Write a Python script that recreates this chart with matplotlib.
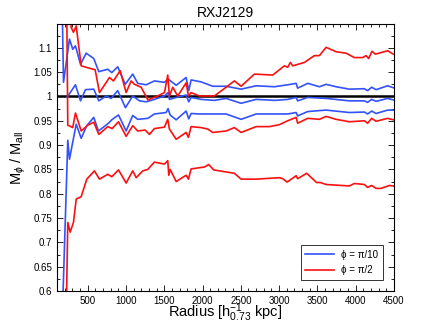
import matplotlib
matplotlib.use("Agg")
import matplotlib.pyplot as plt
from matplotlib.ticker import MultipleLocator

plt.rcParams["font.family"] = ["Liberation Sans", "DejaVu Sans"]
plt.rcParams["mathtext.fontset"] = "custom"
plt.rcParams["mathtext.rm"] = "Liberation Sans"
plt.rcParams["mathtext.it"] = "Liberation Sans:italic"

BLUE = "#3352fa"
RED = "#fa1010"

# phi = pi/10 (blue), three curves
r_b1 = [150, 185, 263, 306, 341, 407, 481, 580, 646, 763, 815, 893, 990, 1089,
        1154, 1264, 1372, 1503, 1550, 1656, 1786, 1820, 1851, 1982, 2133, 2308,
        2504, 2700, 2938, 3112, 3222, 3242, 3373, 3526, 3613, 3744, 3917, 4113,
        4156, 4208, 4266, 4417, 4490]
m_b1 = [1.35, 1.029, 1.118, 1.097, 1.104, 1.066, 1.089, 1.078, 1.051, 1.056,
        1.049, 1.061, 1.025, 1.046, 1.027, 1.024, 1.032, 1.029, 1.036, 1.023,
        1.039, 1.012, 1.034, 1.030, 1.021, 1.021, 1.015, 1.022, 1.020, 1.024,
        1.027, 1.017, 1.027, 1.020, 1.025, 1.020, 1.015, 1.016, 1.012, 1.019,
        1.014, 1.022, 1.018]

r_b2 = [230, 341, 407, 472, 580, 646, 742, 807, 893, 994, 1089, 1177, 1264,
        1372, 1503, 1550, 1568, 1656, 1786, 1820, 1851, 1982, 2155, 2308, 2504,
        2700, 2950, 3112, 3222, 3242, 3373, 3613, 3917, 4113, 4156, 4208, 4266,
        4417, 4490]
m_b2 = [0.998, 1.024, 0.991, 1.014, 1.015, 0.991, 1.001, 0.996, 1.012, 0.977,
        1.001, 0.991, 0.989, 0.994, 1.001, 1.008, 0.994, 0.998, 1.003, 0.989,
        0.998, 0.994, 0.992, 0.996, 0.986, 0.994, 0.992, 0.994, 0.998, 0.991,
        0.998, 0.996, 0.991, 0.991, 0.988, 0.994, 0.990, 0.996, 0.993]

r_b3 = [160, 241, 263, 351, 416, 489, 580, 642, 772, 815, 903, 1003, 1089,
        1154, 1285, 1372, 1525, 1550, 1577, 1656, 1786, 1820, 1851, 1960, 2308,
        2504, 2700, 3004, 3112, 3222, 3242, 3373, 3613, 3917, 4113, 4156, 4208,
        4266, 4417, 4490]
m_b3 = [0.50, 0.910, 0.871, 0.943, 0.914, 0.940, 0.957, 0.929, 0.945, 0.952,
        0.962, 0.929, 0.961, 0.953, 0.955, 0.964, 0.967, 0.975, 0.962, 0.952,
        0.970, 0.954, 0.965, 0.964, 0.964, 0.953, 0.964, 0.964, 0.964, 0.967,
        0.960, 0.969, 0.972, 0.967, 0.968, 0.964, 0.970, 0.965, 0.972, 0.972]

# phi = pi/2 (red), three curves
r_r1 = [250, 285, 315, 351, 416, 524, 598, 655, 785, 837, 925, 1003, 1068,
        1111, 1199, 1285, 1415, 1503, 1546, 1568, 1611, 1676, 1786, 1816, 1851,
        1960, 2155, 2308, 2416, 2504, 2677, 2916, 3069, 3112, 3147, 3177, 3330,
        3460, 3526, 3613, 3744, 3874, 3982, 4091, 4135, 4169, 4213, 4256, 4417,
        4491]
m_r1 = [1.20, 1.142, 1.132, 1.145, 1.063, 1.058, 1.055, 1.008, 1.039, 1.032,
        1.053, 1.008, 1.032, 1.025, 1.019, 0.993, 1.001, 1.008, 1.044, 1.001,
        1.019, 1.001, 1.028, 1.001, 1.008, 1.001, 1.001, 1.019, 1.032, 1.021,
        1.046, 1.044, 1.063, 1.060, 1.070, 1.063, 1.070, 1.084, 1.084, 1.101,
        1.092, 1.089, 1.080, 1.080, 1.084, 1.078, 1.093, 1.087, 1.094, 1.087]

r_r2 = [215, 241, 306, 341, 416, 502, 580, 646, 763, 820, 903, 1003, 1089,
        1154, 1251, 1307, 1372, 1503, 1546, 1568, 1656, 1786, 1816, 1851, 1982,
        2068, 2133, 2308, 2416, 2504, 2700, 2873, 3004, 3112, 3222, 3242, 3373,
        3526, 3613, 3744, 3917, 4113, 4156, 4208, 4266, 4417, 4490]
m_r2 = [1.40, 0.941, 0.936, 0.966, 0.929, 0.941, 0.947, 0.922, 0.938, 0.934,
        0.948, 0.918, 0.940, 0.929, 0.931, 0.922, 0.934, 0.937, 0.953, 0.933,
        0.912, 0.926, 0.916, 0.938, 0.936, 0.933, 0.926, 0.929, 0.936, 0.926,
        0.938, 0.938, 0.942, 0.950, 0.957, 0.945, 0.955, 0.953, 0.959, 0.953,
        0.948, 0.950, 0.945, 0.955, 0.949, 0.955, 0.952]

r_r3 = [215, 241, 272, 315, 351, 416, 489, 589, 655, 763, 815, 903, 1003, 1089,
        1134, 1220, 1285, 1372, 1503, 1546, 1560, 1577, 1656, 1786, 1816, 1851,
        2025, 2081, 2146, 2416, 2504, 2700, 3004, 3047, 3104, 3222, 3242, 3360,
        3490, 3539, 3613, 3917, 3982, 4113, 4156, 4208, 4266, 4331, 4439, 4490]
m_r3 = [0.50, 0.741, 0.721, 0.741, 0.789, 0.794, 0.830, 0.847, 0.830, 0.840,
        0.835, 0.849, 0.822, 0.847, 0.833, 0.847, 0.850, 0.865, 0.861, 0.868,
        0.838, 0.850, 0.825, 0.838, 0.830, 0.851, 0.855, 0.860, 0.849, 0.842,
        0.830, 0.830, 0.833, 0.831, 0.824, 0.837, 0.831, 0.842, 0.823, 0.823,
        0.819, 0.816, 0.821, 0.819, 0.813, 0.817, 0.811, 0.811, 0.817, 0.816]

fig = plt.figure(figsize=(4.36, 3.28), dpi=100)
ax = fig.add_axes([0.1307, 0.1128, 0.7730, 0.8140])

ax.axhline(1.0, color="black", lw=1.8, zorder=1)

lw = 1.2
ax.plot(r_b1, m_b1, color=BLUE, lw=lw, label=r"ϕ = π/10")
ax.plot(r_b2, m_b2, color=BLUE, lw=lw)
ax.plot(r_b3, m_b3, color=BLUE, lw=lw)
ax.plot(r_r1, m_r1, color=RED, lw=lw, label=r"ϕ = π/2")
ax.plot(r_r2, m_r2, color=RED, lw=lw)
ax.plot(r_r3, m_r3, color=RED, lw=lw)

ax.set_xlim(100, 4500)
ax.set_ylim(0.6, 1.149)
ax.xaxis.set_major_locator(MultipleLocator(500))
ax.xaxis.set_minor_locator(MultipleLocator(100))
ax.yaxis.set_major_locator(MultipleLocator(0.05))
ax.yaxis.set_minor_locator(MultipleLocator(0.025))
ax.yaxis.set_major_formatter(plt.FuncFormatter(lambda v, p: "{:g}".format(round(v, 3))))
ax.tick_params(which="both", direction="in", top=True, right=True,
               labelsize=7, width=0.6)
ax.tick_params(which="major", length=4)
ax.tick_params(which="minor", length=2)
for s in ax.spines.values():
    s.set_linewidth(0.8)

ax.set_title("RXJ2129", fontsize=10, pad=5)
ax.set_xlabel(r"Radius [h$_{0.73}^{-1}$ kpc]", fontsize=10.5, labelpad=-3)
ax.set_ylabel(r"M$_{ϕ}$ / M$_{\rm all}$", fontsize=10.5, labelpad=4)

leg = ax.legend(loc="lower right", fontsize=7, fancybox=False,
                edgecolor="#333333", framealpha=1, handlelength=2.9,
                borderaxespad=1.1, labelspacing=0.6, borderpad=0.5)
leg.get_frame().set_linewidth(0.7)

fig.savefig("out.png", dpi=100)
